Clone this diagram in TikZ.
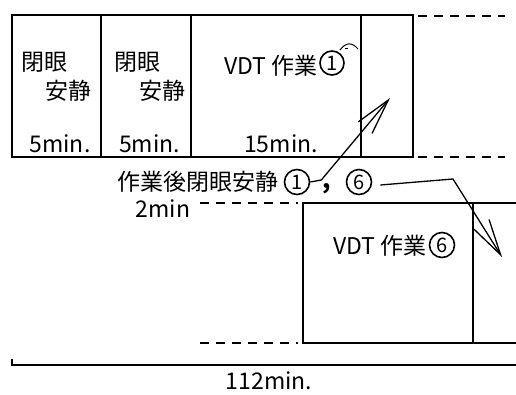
\documentclass[tikz,border=0pt]{standalone}
\usepackage{fontspec}
\setmainfont{Noto Sans CJK JP}
\usetikzlibrary{arrows.meta}
\begin{document}
\begin{tikzpicture}[x=1pt,y=-1pt,line width=2.2pt,
  txt/.style={font=\fontsize{23pt}{25pt}\selectfont,inner sep=0pt},
  circd/.style={circle,draw,line width=1.6pt,inner sep=0pt,minimum size=#1,font=\fontsize{20pt}{20pt}\selectfont},
  circd/.default=25pt,
  dsh/.style={line width=2pt,dash pattern=on 9pt off 7pt},
  conn/.style={line width=1.3pt,-{Straight Barb[length=36pt,width=18pt,line width=1.3pt]}},
  arcmark/.style={line width=1pt}
]
\useasboundingbox (0,0) rectangle (516,394);
% top row
\draw (12,15) rectangle (413,157);
\draw (101,15) -- (101,157);
\draw (191,15) -- (191,157);
\draw (361,15) -- (361,157);
\draw[dsh] (418,16) -- (505,16);
\draw[dsh] (418,157) -- (505,157);
% bottom row
\draw (516,203) -- (303,203) -- (303,343) -- (516,343);
\draw (473,203) -- (473,343);
\draw[dsh] (200,203) -- (298,203);
\draw[dsh] (200,343) -- (298,343);
% total line
\draw (12,359) -- (12,365) -- (516,365);
% texts
\node[txt] (a1) at (44.5,62) {閉眼};
\node[txt] (a2) at (68.5,91) {安静};
\node[txt] (a3) at (60,144) {5min.};
\node[txt] (b1) at (137.5,62) {閉眼};
\node[txt] (b2) at (162,91) {安静};
\node[txt] (b3) at (149.5,144) {5min.};
\node[txt,anchor=east] (v1) at (319,66) {VDT 作業};
\node[circd=24pt] (v1c) at (332,63) {1};
\node[txt] (v2) at (281,144) {15min.};
\node[txt,anchor=east] (r0) at (280,182) {作業後閉眼安静};
\node[circd] (c1) at (297,182) {1};
\node[txt,anchor=base,font=\fontsize{24pt}{24pt}\bfseries] (cm) at (327,188) {,};
\node[circd] (c6) at (359,182) {6};
\node[txt] (t2m) at (163,209) {2min};
\node[txt,anchor=east] (v6) at (428,246) {VDT 作業};
\node[circd] (v6c) at (442,245) {6};
\node[txt] (tot) at (269,381) {112min.};
% small mark above circled 1
\draw[arcmark] (340,50) .. controls (346,42) and (352,42) .. (358,49);
\draw[arcmark] (345,48) -- (348,48);
% connectors
\coordinate (p1) at (390,98);
\coordinate (p6) at (502,257);
\draw[conn] (c1.east) -- ++(11,-2) -- (p1);
\draw[conn] ([xshift=8pt,yshift=-3pt]c6.east) -- (453,179) -- (p6);
\end{tikzpicture}
\end{document}
